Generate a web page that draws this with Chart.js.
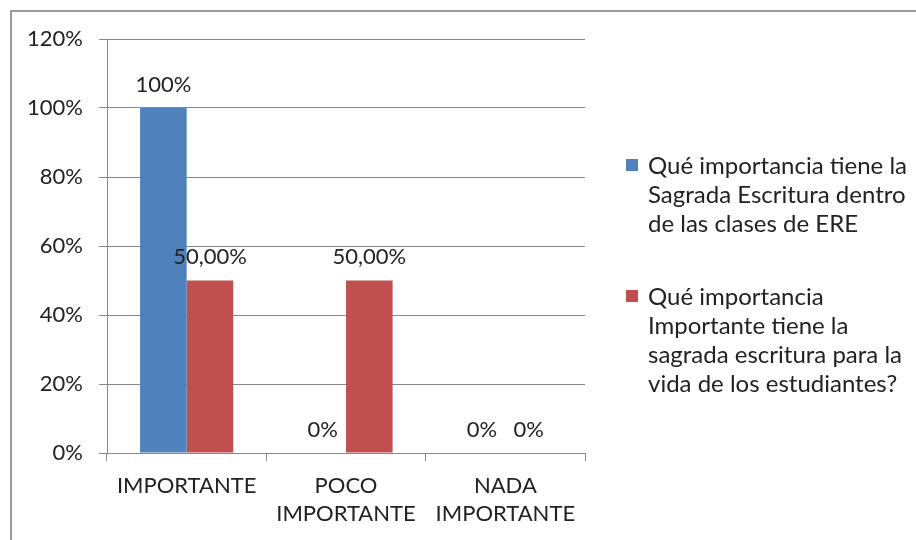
<!DOCTYPE html>
<html>
<head>
<meta charset="utf-8">
<script src="https://cdn.jsdelivr.net/npm/chart.js@4.4.1/dist/chart.umd.min.js"></script>
<style>
    html, body { margin: 0; padding: 0; background: #fff; }
    #wrap { width: 916px; height: 540px; }
</style>
</head>
<body>
<div id="wrap"><canvas id="importanciaChart" width="916" height="540"></canvas></div>
<script>
// Chart data
const categories = ['IMPORTANTE', ['POCO', 'IMPORTANTE'], ['NADA', 'IMPORTANTE']];
const seriesNames = [
    ['Qué importancia tiene la', 'Sagrada Escritura dentro', 'de las clases de ERE'],
    ['Qué importancia', 'Importante tiene la', 'sagrada escritura para la', 'vida de los estudiantes?']
];
const valuesClases = [100, 0, 0];
const valuesVida = [50, 50, 0];
const labelsClases = ['100%', '0%', '0%'];
const labelsVida = ['50,00%', '50,00%', '0%'];
const yMin = 0;
const yMax = 120;
const yStep = 20;

const TEXT_COLOR = '#222222';
const GRID_COLOR = '#878787';
const FONT = 'Lato';

Chart.defaults.font.family = FONT;
Chart.defaults.font.size = 22;
Chart.defaults.color = TEXT_COLOR;

/**
 * Outer frame of the chart (only top and left edges are visible)
 */
const framePlugin = {
    id: 'frame',
    beforeDraw(chart) {
        const ctx = chart.ctx;
        ctx.save();
        ctx.fillStyle = '#ffffff';
        ctx.fillRect(0, 0, chart.width, chart.height);
        ctx.strokeStyle = '#9a9a9a';
        ctx.lineWidth = 2;
        ctx.beginPath();
        ctx.moveTo(11, chart.height);
        ctx.lineTo(11, 11);
        ctx.lineTo(chart.width, 11);
        ctx.stroke();
        ctx.restore();
    }
};

/**
 * Value labels above each bar
 */
const barLabelPlugin = {
    id: 'barLabels',
    afterDatasetsDraw(chart) {
        const ctx = chart.ctx;
        ctx.save();
        ctx.font = '22px ' + FONT;
        ctx.fillStyle = TEXT_COLOR;
        ctx.textAlign = 'center';
        ctx.textBaseline = 'middle';
        chart.data.datasets.forEach((ds, i) => {
            chart.getDatasetMeta(i).data.forEach((bar, j) => {
                ctx.fillText(ds.valueLabels[j], bar.x, bar.y - 23.5);
            });
        });
        ctx.restore();
    }
};

/**
 * Legend on the right with wrapped lines
 */
const sideLegendPlugin = {
    id: 'sideLegend',
    afterDraw(chart, args, opts) {
        const ctx = chart.ctx;
        ctx.save();
        ctx.font = opts.fontSize + 'px ' + FONT;
        ctx.textAlign = 'left';
        ctx.textBaseline = 'middle';
        let y = opts.top;
        chart.data.datasets.forEach(ds => {
            ctx.fillStyle = ds.backgroundColor;
            ctx.fillRect(opts.x, y - opts.box / 2 - 1, opts.box, opts.box);
            ctx.fillStyle = TEXT_COLOR;
            ds.legendLines.forEach((line, k) => {
                ctx.fillText(line, opts.textX, y + k * opts.lineHeight);
            });
            y += ds.legendLines.length * opts.lineHeight + opts.itemGap;
        });
        ctx.restore();
    }
};

new Chart(document.getElementById('importanciaChart'), {
    type: 'bar',
    data: {
        labels: categories,
        datasets: [{
            label: seriesNames[0].join(' '),
            legendLines: seriesNames[0],
            data: valuesClases,
            valueLabels: labelsClases,
            backgroundColor: '#4F81BD'
        }, {
            label: seriesNames[1].join(' '),
            legendLines: seriesNames[1],
            data: valuesVida,
            valueLabels: labelsVida,
            backgroundColor: '#C0504D'
        }]
    },
    options: {
        responsive: false,
        animation: false,
        layout: {
            padding: { left: 0, right: 331, top: 39, bottom: 0 }
        },
        datasets: {
            bar: {
                barPercentage: 1,
                categoryPercentage: 0.585
            }
        },
        scales: {
            x: {
                offset: true,
                grid: {
                    offset: true,
                    drawOnChartArea: false,
                    drawTicks: true,
                    tickLength: 8,
                    color: GRID_COLOR
                },
                border: { color: GRID_COLOR },
                ticks: {
                    padding: 11,
                    maxRotation: 0,
                    font: { size: 22, lineHeight: 1.28 }
                },
                afterFit(scale) { scale.height = 87; }
            },
            y: {
                min: yMin,
                max: yMax,
                grid: {
                    color: GRID_COLOR,
                    tickLength: 8
                },
                border: { color: GRID_COLOR },
                ticks: {
                    stepSize: yStep,
                    padding: 16,
                    callback: v => v + '%'
                },
                afterFit(scale) { scale.width = 107; }
            }
        },
        plugins: {
            legend: { display: false },
            tooltip: { enabled: false },
            sideLegend: {
                x: 626,
                box: 12,
                textX: 648,
                top: 166,
                fontSize: 24,
                lineHeight: 29,
                itemGap: 44
            }
        }
    },
    plugins: [framePlugin, barLabelPlugin, sideLegendPlugin]
});
</script>
</body>
</html>
